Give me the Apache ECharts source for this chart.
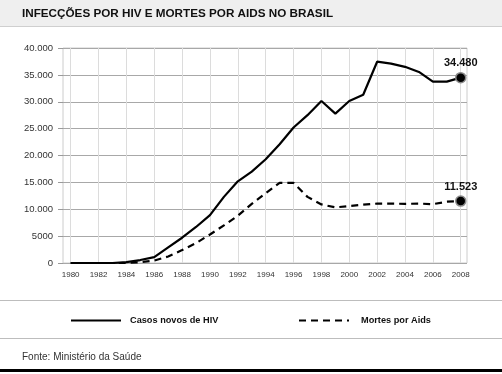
<!DOCTYPE html>
<html>
<head>
<meta charset="utf-8">
<script src="https://cdn.jsdelivr.net/npm/echarts@6/dist/echarts.min.js"></script>
<style>
html,body{margin:0;padding:0;background:#fff;}
#chart{width:502px;height:374px;}
</style>
</head>
<body>
<div id="chart"></div>
<script>
const titleText = 'INFECÇÕES POR HIV E MORTES POR AIDS NO BRASIL';
const sourceText = 'Fonte: Ministério da Saúde';
const seriesNames = ['Casos novos de HIV', 'Mortes por Aids'];
const years = [1980,1981,1982,1983,1984,1985,1986,1987,1988,1989,1990,1991,1992,1993,1994,1995,1996,1997,1998,1999,2000,2001,2002,2003,2004,2005,2006,2007,2008];
const hivCases = [0,0,0,0,150,550,1100,2900,4700,6700,8900,12300,15200,17000,19300,22100,25200,27500,30150,27800,30150,31300,37450,37100,36500,35550,33750,33750,34480];
const aidsDeaths = [0,0,0,0,0,150,450,1200,2400,3700,5300,7000,8800,11000,13000,14900,14900,12300,10900,10350,10600,10850,11050,11050,11000,11050,10950,11400,11523];
const xTickYears = [1980,1982,1984,1986,1988,1990,1992,1994,1996,1998,2000,2002,2004,2006,2008];

const FONT = '"Liberation Sans", Arial, sans-serif';

function fmt(v) {
  if (v < 10000) return String(v);
  const s = String(v);
  return s.slice(0, s.length - 3) + '.' + s.slice(s.length - 3);
}

function pairs(vals) {
  return years.map((y, i) => [y, vals[i]]);
}

function endPoint(vals) {
  const i = years.length - 1;
  return {
    symbol: 'circle',
    symbolSize: 10,
    itemStyle: {color: '#000', borderColor: '#8a8a8a', borderWidth: 1.5},
    label: {
      show: true, position: 'top', distance: 3,
      formatter: (p) => fmt(p.value),
      fontFamily: FONT, fontSize: 11, fontWeight: 'bold', color: '#111'
    },
    data: [{coord: [years[i], vals[i]], value: vals[i]}]
  };
}

const chart = echarts.init(document.getElementById('chart'), null, {renderer: 'canvas'});
chart.setOption({
  animation: false,
  backgroundColor: '#fff',
  title: {
    text: titleText, left: 17, top: 3,
    textStyle: {fontFamily: FONT, fontSize: 11.7, fontWeight: 'bold', color: '#111'}
  },
  graphic: [
    {type: 'rect', z: -10, shape: {x: 0, y: 0, width: 502, height: 26}, style: {fill: '#efefef'}},
    {type: 'line', shape: {x1: 0, y1: 26.5, x2: 502, y2: 26.5}, style: {stroke: '#cfcfcf', lineWidth: 1}},
    {type: 'line', shape: {x1: 0, y1: 300.5, x2: 502, y2: 300.5}, style: {stroke: '#bdbdbd', lineWidth: 1}},
    {type: 'line', shape: {x1: 0, y1: 338.5, x2: 502, y2: 338.5}, style: {stroke: '#bdbdbd', lineWidth: 1}},
    {type: 'rect', shape: {x: 0, y: 369, width: 502, height: 3}, style: {fill: '#000'}},
    {type: 'text', left: 22, top: 352, style: {text: sourceText, font: '10px ' + FONT, fill: '#333'}}
  ],
  legend: [
    {
      data: [seriesNames[0]], left: 65, top: 310, itemWidth: 50, itemHeight: 14,
      itemStyle: {opacity: 0},
      textStyle: {fontFamily: FONT, fontSize: 9.2, fontWeight: 'bold', color: '#111', padding: [0, 0, 0, 4]}
    },
    {
      data: [seriesNames[1]], left: 293, top: 310, itemWidth: 50, itemHeight: 14,
      itemStyle: {opacity: 0},
      textStyle: {fontFamily: FONT, fontSize: 9.2, fontWeight: 'bold', color: '#111', padding: [0, 0, 0, 7]}
    }
  ],
  grid: {left: 63, right: 35, top: 48, bottom: 111, containLabel: false, outerBoundsMode: 'none',
    show: true, borderColor: '#cccccc', borderWidth: 1},
  xAxis: {
    type: 'value', min: 1979.45, max: 2008.45,
    axisLine: {show: false},
    axisTick: {show: false, customValues: xTickYears},
    axisLabel: {customValues: xTickYears, fontFamily: FONT, fontSize: 8, color: '#333', margin: 8,
      formatter: (v) => String(v)},
    splitLine: {show: true, lineStyle: {color: '#dcdcdc', width: 1}}
  },
  yAxis: {
    type: 'value', min: 0, max: 40000, interval: 5000,
    axisLine: {show: false},
    axisTick: {show: true, length: 5, lineStyle: {color: '#9a9a9a'}},
    axisLabel: {fontFamily: FONT, fontSize: 9.5, color: '#333', margin: 10, formatter: (v) => fmt(v)},
    splitLine: {show: true, lineStyle: {color: '#a8a8a8', width: 1}}
  },
  series: [
    {
      name: seriesNames[0], type: 'line', symbol: 'none', z: 3,
      lineStyle: {color: '#000', width: 2.2},
      itemStyle: {color: '#000'},
      data: pairs(hivCases),
      markPoint: endPoint(hivCases)
    },
    {
      name: seriesNames[1], type: 'line', symbol: 'none', z: 3,
      lineStyle: {color: '#000', width: 2.2, type: [7, 5]},
      itemStyle: {color: '#000'},
      data: pairs(aidsDeaths),
      markPoint: endPoint(aidsDeaths)
    }
  ]
});
</script>
</body>
</html>
